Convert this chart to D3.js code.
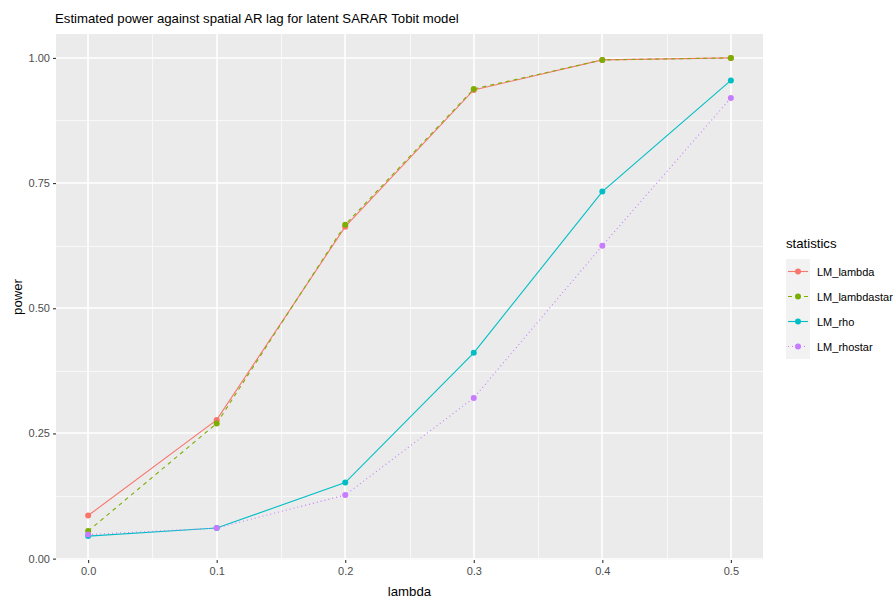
<!DOCTYPE html>
<html>
<head>
<meta charset="utf-8">
<script src="https://cdn.jsdelivr.net/npm/d3@7"></script>
<style>
  html, body { margin: 0; padding: 0; background: #fff; }
  svg { display: block; font-family: "Liberation Sans", Arial, sans-serif; }
</style>
</head>
<body>
<div id="chart"></div>
<script>
(() => {
  // Data
  const lambdas = [0.0, 0.1, 0.2, 0.3, 0.4, 0.5];
  const statistics = ["LM_lambda", "LM_lambdastar", "LM_rho", "LM_rhostar"];
  const lmLambda     = [0.086, 0.277, 0.663, 0.936, 0.996, 1.000];
  const lmLambdastar = [0.055, 0.270, 0.667, 0.938, 0.996, 1.000];
  const lmRho        = [0.045, 0.061, 0.152, 0.411, 0.733, 0.955];
  const lmRhostar    = [0.048, 0.061, 0.127, 0.321, 0.625, 0.920];
  const xTicks = [0.0, 0.1, 0.2, 0.3, 0.4, 0.5];
  const yTicks = [0.00, 0.25, 0.50, 0.75, 1.00];

  const seriesValues = [lmLambda, lmLambdastar, lmRho, lmRhostar];
  const colors = ["#F8766D", "#7CAE00", "#00BFC4", "#C77CFF"];
  const dashes = [null, "4,4", null, "1,3"];

  const W = 896, H = 600;
  const panel = { left: 56, right: 763, top: 34, bottom: 560 };

  const svg = d3.select("#chart").append("svg")
    .attr("width", W).attr("height", H);

  // ggplot-like 5% expansion
  const allY = seriesValues.flat();
  const yMin = d3.min(allY), yMax = d3.max(allY);
  const yPad = (yMax - yMin) * 0.05;
  const xPad = (d3.max(lambdas) - d3.min(lambdas)) * 0.05;

  const x = d3.scaleLinear()
    .domain([d3.min(lambdas) - xPad, d3.max(lambdas) + xPad])
    .range([panel.left, panel.right]);
  const y = d3.scaleLinear()
    .domain([yMin - yPad, yMax + yPad])
    .range([panel.bottom, panel.top]);
  const px = v => Math.round(v);

  // Panel background
  svg.append("rect")
    .attr("x", panel.left).attr("y", panel.top)
    .attr("width", panel.right - panel.left)
    .attr("height", panel.bottom - panel.top)
    .attr("fill", "#EBEBEB");

  const grid = svg.append("g");
  // minor grid
  const xMinor = d3.range(xTicks.length - 1).map(i => (xTicks[i] + xTicks[i + 1]) / 2);
  const yMinor = d3.range(yTicks.length - 1).map(i => (yTicks[i] + yTicks[i + 1]) / 2);
  grid.selectAll("line.xminor").data(xMinor).join("line")
    .attr("x1", d => px(x(d)) + 0.5).attr("x2", d => px(x(d)) + 0.5)
    .attr("y1", panel.top).attr("y2", panel.bottom)
    .attr("stroke", "#F8F8F8").attr("stroke-width", 1);
  grid.selectAll("line.yminor").data(yMinor).join("line")
    .attr("y1", d => px(y(d)) + 0.5).attr("y2", d => px(y(d)) + 0.5)
    .attr("x1", panel.left).attr("x2", panel.right)
    .attr("stroke", "#F8F8F8").attr("stroke-width", 1);
  // major grid
  grid.selectAll("line.xmajor").data(xTicks).join("line")
    .attr("x1", d => px(x(d))).attr("x2", d => px(x(d)))
    .attr("y1", panel.top).attr("y2", panel.bottom)
    .attr("stroke", "#fff").attr("stroke-width", 1.6);
  grid.selectAll("line.ymajor").data(yTicks).join("line")
    .attr("y1", d => px(y(d))).attr("y2", d => px(y(d)))
    .attr("x1", panel.left).attr("x2", panel.right)
    .attr("stroke", "#fff").attr("stroke-width", 1.6);

  // Axes
  const xAxis = svg.append("g")
    .attr("transform", `translate(0,${panel.bottom})`)
    .call(d3.axisBottom(x).tickValues(xTicks).tickFormat(d3.format(".1f")).tickSize(3).tickPadding(4));
  const yAxis = svg.append("g")
    .attr("transform", `translate(${panel.left},0)`)
    .call(d3.axisLeft(y).tickValues(yTicks).tickFormat(d3.format(".2f")).tickSize(3).tickPadding(3));
  [xAxis, yAxis].forEach(a => {
    a.select(".domain").remove();
    a.selectAll(".tick line").attr("stroke", "#333").attr("stroke-width", 1.1);
    a.selectAll(".tick text").attr("fill", "#4D4D4D")
      .style("font-size", "11px").style("font-family", "Liberation Sans, Arial, sans-serif");
  });

  // Lines
  const line = d3.line().x((d, i) => x(lambdas[i])).y(d => y(d));
  const plot = svg.append("g");
  seriesValues.forEach((vals, k) => {
    plot.append("path")
      .datum(vals)
      .attr("d", line)
      .attr("fill", "none")
      .attr("stroke", colors[k])
      .attr("stroke-width", 1.1)
      .attr("stroke-dasharray", dashes[k]);
  });
  seriesValues.forEach((vals, k) => {
    plot.selectAll(null).data(vals).join("circle")
      .attr("cx", (d, i) => x(lambdas[i]))
      .attr("cy", d => y(d))
      .attr("r", 3)
      .attr("fill", colors[k]);
  });

  // Title and axis titles
  svg.append("text")
    .attr("x", 55).attr("y", 23)
    .attr("fill", "#000")
    .style("font-size", "13.2px")
    .text("Estimated power against spatial AR lag for latent SARAR Tobit model");
  svg.append("text")
    .attr("x", (panel.left + panel.right) / 2).attr("y", 596)
    .attr("text-anchor", "middle")
    .style("font-size", "13.2px")
    .text("lambda");
  svg.append("text")
    .attr("transform", `translate(22,${(panel.top + panel.bottom) / 2}) rotate(-90)`)
    .attr("text-anchor", "middle")
    .style("font-size", "13.2px")
    .text("power");

  // Legend
  const legend = svg.append("g").attr("transform", "translate(786,0)");
  legend.append("text")
    .attr("x", 0).attr("y", 248)
    .style("font-size", "13.2px")
    .text("statistics");
  const keyY = d3.scaleBand().domain(statistics).range([259, 359]);
  statistics.forEach((s, k) => {
    const cy = keyY(s) + keyY.bandwidth() / 2;
    legend.append("rect")
      .attr("x", 0).attr("y", keyY(s))
      .attr("width", 24).attr("height", keyY.bandwidth())
      .attr("fill", "#F2F2F2");
    legend.append("line")
      .attr("x1", 2).attr("x2", 22)
      .attr("y1", cy).attr("y2", cy)
      .attr("stroke", colors[k]).attr("stroke-width", 1.1)
      .attr("stroke-dasharray", dashes[k]);
    legend.append("circle")
      .attr("cx", 12).attr("cy", cy).attr("r", 3)
      .attr("fill", colors[k]);
    legend.append("text")
      .attr("x", 31).attr("y", cy + 4)
      .style("font-size", "11px")
      .attr("fill", "#000")
      .text(s);
  });
})();
</script>
</body>
</html>
